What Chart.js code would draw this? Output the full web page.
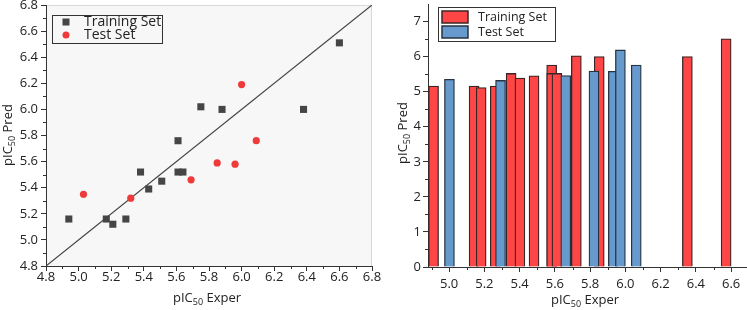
<!DOCTYPE html>
<html>
<head>
    <title>pIC50 Pred vs Exper</title>
    <style>
        body { margin: 0; background: #fff; }
        #left { position: absolute; left: 0; top: 0; width: 385px; height: 310px; }
        #right { position: absolute; left: 390px; top: 0; width: 357px; height: 310px; }
    </style>
    <script src="https://cdn.jsdelivr.net/npm/chart.js"></script>
</head>
<body>
    <div id="left"><canvas id="chartScatter"></canvas></div>
    <div id="right"><canvas id="chartBarra"></canvas></div>

    <script>
        // valores
        var trainExper = [4.94, 5.17, 5.21, 5.29, 5.38, 5.43, 5.51, 5.61, 5.61, 5.64, 5.75, 5.88, 6.38, 6.60];
        var trainPred  = [5.16, 5.16, 5.12, 5.16, 5.52, 5.39, 5.45, 5.76, 5.52, 5.52, 6.02, 6.00, 6.00, 6.51];
        var testExper  = [5.03, 5.32, 5.69, 5.85, 5.96, 6.00, 6.09];
        var testPred   = [5.35, 5.32, 5.46, 5.59, 5.58, 6.19, 5.76];

        var scatterTicks = [4.8, 5.0, 5.2, 5.4, 5.6, 5.8, 6.0, 6.2, 6.4, 6.6, 6.8];
        var barXTicks = [5.0, 5.2, 5.4, 5.6, 5.8, 6.0, 6.2, 6.4, 6.6];
        var barYTicks = [0, 1, 2, 3, 4, 5, 6, 7];

        var FONT = '"Open Sans", "Noto Sans", sans-serif';
        var AXIS = '#333';

        function pts(xs, ys) {
            return xs.map(function(x, i) { return {x: x, y: ys[i]}; });
        }
        function midpoints(t, lo, hi) {
            var out = [];
            var step = t[1] - t[0];
            out.push(t[0] - step / 2);
            for (var i = 0; i < t.length; i++) out.push(t[i] + step / 2);
            return out.filter(function(v) { return v > lo + 1e-9 && v < hi - 1e-9; });
        }
        function zeroPad(s) {
            s.paddingLeft = 0; s.paddingRight = 0; s.paddingTop = 0; s.paddingBottom = 0;
        }

        // fundo cinza da area do grafico
        var plotBg = {
            id: 'plotBg',
            beforeDraw: function(chart, args, o) {
                if (!o.color) return;
                var a = chart.chartArea, ctx = chart.ctx;
                ctx.save();
                ctx.fillStyle = o.color;
                ctx.fillRect(a.left, a.top, a.right - a.left, a.bottom - a.top);
                ctx.strokeStyle = o.border;
                ctx.lineWidth = 1;
                ctx.beginPath();
                ctx.moveTo(a.left, a.top + 0.5);
                ctx.lineTo(a.right - 0.5, a.top + 0.5);
                ctx.lineTo(a.right - 0.5, a.bottom);
                ctx.stroke();
                ctx.restore();
            }
        };

        var minorTicks = {
            id: 'minorTicks',
            afterDraw: function(chart, args, o) {
                var ctx = chart.ctx;
                ctx.save();
                ctx.strokeStyle = AXIS;
                ctx.lineWidth = 1;
                ['x', 'y'].forEach(function(id) {
                    var s = chart.scales[id];
                    (o[id] || []).forEach(function(v) {
                        var p = Math.round(s.getPixelForValue(v)) + 0.5;
                        ctx.beginPath();
                        if (id === 'x') { ctx.moveTo(p, s.top); ctx.lineTo(p, s.top + 3); }
                        else { ctx.moveTo(s.right, p); ctx.lineTo(s.right - 3, p); }
                        ctx.stroke();
                    });
                });
                ctx.restore();
            }
        };

        function subText(ctx, parts, cx, cy, rot) {
            ctx.save();
            ctx.translate(cx, cy);
            if (rot) ctx.rotate(-Math.PI / 2);
            ctx.fillStyle = '#222';
            ctx.textBaseline = 'middle';
            var total = 0;
            parts.forEach(function(p) {
                ctx.font = (p.sub ? '9px ' : '13px ') + FONT;
                p.w = ctx.measureText(p.t).width;
                total += p.w;
            });
            var x = -total / 2;
            parts.forEach(function(p) {
                ctx.font = (p.sub ? '9px ' : '13px ') + FONT;
                ctx.fillText(p.t, x, p.sub ? 4 : 0);
                x += p.w;
            });
            ctx.restore();
        }

        var axisTitles = {
            id: 'axisTitles',
            afterDraw: function(chart, args, o) {
                var ctx = chart.ctx;
                subText(ctx, [{t: 'pIC'}, {t: '50', sub: true}, {t: ' Exper'}], o.xt[0], o.xt[1], false);
                subText(ctx, [{t: 'pIC'}, {t: '50', sub: true}, {t: ' Pred'}], o.yt[0], o.yt[1], true);
            }
        };

        var boxLegend = {
            id: 'boxLegend',
            afterDraw: function(chart, args, o) {
                var ctx = chart.ctx;
                ctx.save();
                ctx.fillStyle = o.fill;
                ctx.fillRect(o.x, o.y, o.w, o.h);
                ctx.strokeStyle = AXIS;
                ctx.lineWidth = 1;
                ctx.strokeRect(o.x + 0.5, o.y + 0.5, o.w, o.h);
                var row = 0;
                chart.data.datasets.forEach(function(ds) {
                    if (!ds.label) return;
                    var cy = o.rows[row++];
                    if (o.kind === 'marker') {
                        ctx.fillStyle = ds.backgroundColor;
                        if (ds.pointStyle === 'rect') {
                            ctx.fillRect(o.mx - 3.5, cy - 3.5, 7, 7);
                        } else {
                            ctx.beginPath();
                            ctx.arc(o.mx, cy, 3.5, 0, Math.PI * 2);
                            ctx.fill();
                        }
                    } else {
                        ctx.fillStyle = ds.backgroundColor;
                        ctx.fillRect(o.mx, cy - 6, 26, 12);
                        ctx.strokeStyle = ds.borderColor;
                        ctx.lineWidth = 1.5;
                        ctx.strokeRect(o.mx, cy - 6, 26, 12);
                    }
                    ctx.fillStyle = '#222';
                    ctx.font = o.size + 'px ' + FONT;
                    ctx.textBaseline = 'middle';
                    ctx.fillText(ds.label, o.tx, cy);
                });
                ctx.restore();
            }
        };

        // desloca as barras para que a borda direita fique no valor x
        var barShift = {
            id: 'barShift',
            afterDatasetsUpdate: function(chart) {
                chart.data.datasets.forEach(function(ds, i) {
                    chart.getDatasetMeta(i).data.forEach(function(el) {
                        el.x = el.x - el.width / 2;
                    });
                });
            }
        };

        function axis(min, max, ticks, fitW, fitH, pad, decimals) {
            return {
                type: 'linear',
                min: min,
                max: max,
                offset: false,
                afterBuildTicks: function(s) { s.ticks = ticks.map(function(v) { return {value: v}; }); },
                afterFit: function(s) {
                    if (fitW) s.width = fitW;
                    if (fitH) s.height = fitH;
                    zeroPad(s);
                },
                grid: { drawOnChartArea: false, drawTicks: true, tickLength: 5, color: AXIS, offset: false },
                border: { color: AXIS, width: 1 },
                ticks: {
                    autoSkip: false,
                    maxRotation: 0,
                    padding: pad,
                    color: '#222',
                    font: { family: FONT, size: 13 },
                    callback: function(v) { return v.toFixed(decimals); }
                }
            };
        }

        new Chart(document.getElementById('chartScatter'), {
            type: 'scatter',
            data: {
                datasets: [
                    {
                        label: 'Training Set',
                        data: pts(trainExper, trainPred),
                        pointStyle: 'rect',
                        pointRadius: 5,
                        backgroundColor: '#454545',
                        borderColor: '#454545',
                        borderWidth: 0,
                        order: 1
                    },
                    {
                        label: 'Test Set',
                        data: pts(testExper, testPred),
                        pointStyle: 'circle',
                        pointRadius: 3.6,
                        backgroundColor: '#ee3a3a',
                        borderColor: '#ee3a3a',
                        borderWidth: 0,
                        order: 0
                    },
                    {
                        type: 'line',
                        data: [{x: 4.8, y: 4.8}, {x: 6.8, y: 6.8}],
                        showLine: true,
                        pointRadius: 0,
                        borderColor: '#444',
                        borderWidth: 1.2,
                        order: 2
                    }
                ]
            },
            options: {
                animation: false,
                responsive: true,
                maintainAspectRatio: false,
                layout: { padding: { left: 0, top: 4, right: 13, bottom: 0 } },
                plugins: {
                    legend: { display: false },
                    tooltip: { enabled: false },
                    plotBg: { color: '#f7f7f7', border: '#d8d8d8' },
                    minorTicks: { x: midpoints(scatterTicks, 4.8, 6.8), y: midpoints(scatterTicks, 4.8, 6.8) },
                    axisTitles: { xt: [207, 298], yt: [8, 135] },
                    boxLegend: { kind: 'marker', x: 52, y: 15, w: 110, h: 28, fill: '#f7f7f7', mx: 66, tx: 84, rows: [22, 35], size: 14 }
                },
                scales: {
                    x: axis(4.8, 6.8, scatterTicks, 0, 44, -2, 1),
                    y: axis(4.8, 6.8, scatterTicks, 46, 0, 3, 1)
                }
            },
            plugins: [plotBg, minorTicks, axisTitles, boxLegend]
        });

        new Chart(document.getElementById('chartBarra'), {
            type: 'bar',
            data: {
                datasets: [
                    {
                        label: 'Training Set',
                        data: pts(trainExper, trainPred),
                        backgroundColor: '#ff4646',
                        borderColor: '#3b2626',
                        borderWidth: 1.3,
                        barThickness: 10,
                        grouped: false,
                        order: 1
                    },
                    {
                        label: 'Test Set',
                        data: pts(testExper, testPred),
                        backgroundColor: '#6699cc',
                        borderColor: '#263442',
                        borderWidth: 1.3,
                        barThickness: 10,
                        grouped: false,
                        order: 0
                    }
                ]
            },
            options: {
                animation: false,
                responsive: true,
                maintainAspectRatio: false,
                layout: { padding: { left: 0, top: 4, right: 0, bottom: 0 } },
                plugins: {
                    legend: { display: false },
                    tooltip: { enabled: false },
                    minorTicks: { x: midpoints(barXTicks, 4.88, 6.69), y: midpoints(barYTicks, 0, 7.5) },
                    axisTitles: { xt: [195, 300], yt: [13, 133] },
                    boxLegend: { kind: 'swatch', x: 48, y: 7, w: 117, h: 34, fill: '#fff', mx: 52, tx: 88, rows: [17, 32], size: 12.5 }
                },
                scales: {
                    x: axis(4.88, 6.69, barXTicks, 0, 43, 4, 1),
                    y: axis(0, 7.5, barYTicks, 38, 0, 2, 0)
                }
            },
            plugins: [minorTicks, axisTitles, boxLegend, barShift]
        });
    </script>
</body>
</html>
